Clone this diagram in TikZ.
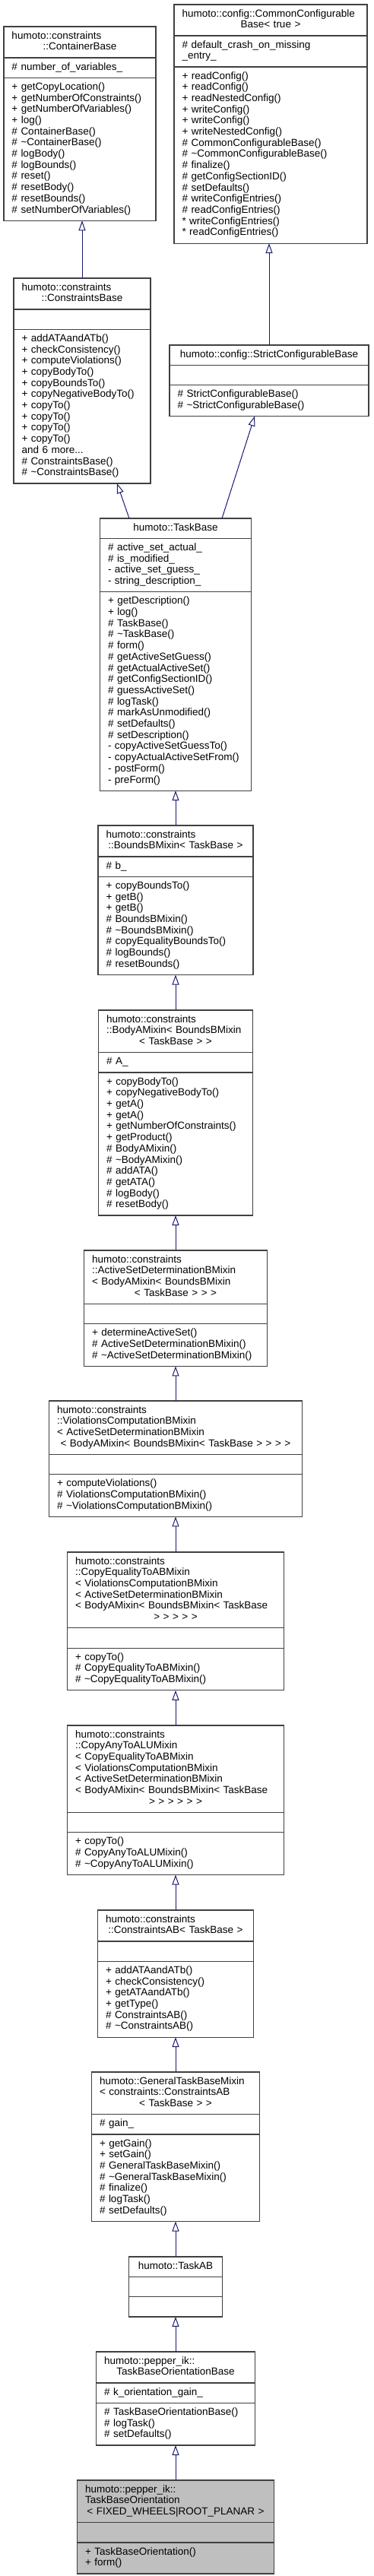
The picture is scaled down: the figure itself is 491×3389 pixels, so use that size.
\documentclass[tikz,border=0pt]{standalone}
\usepackage{fontspec}
\setmainfont{Liberation Sans}
\usetikzlibrary{shapes.multipart,arrows.meta}

\definecolor{edgeblue}{HTML}{191970}
\definecolor{boxgray}{HTML}{404040}

% three compartments: name, attributes, operations
\newcommand{\umlparts}[3]{\strut#1\strut\nodepart{two}\strut#2\strut\nodepart{three}\strut#3\strut}
\newcommand{\midline}[1]{\makebox[\linewidth]{#1}}
\newcommand{\ti}{\textasciitilde}

\tikzset{
  umlclass/.style={rectangle split, rectangle split parts=3, draw=boxgray, line width=1.2pt,
    fill=white, anchor=north, align=left, inner xsep=10.5pt, inner ysep=5.2pt, outer sep=0pt,
    font=\fontsize{13.5}{14.7}\selectfont},
  inherit/.style={draw=edgeblue, line width=1pt, -{Triangle[open,length=13pt,width=9pt]}},
}

\begin{document}
\begin{tikzpicture}[x=1pt, y=-1pt]
        \useasboundingbox (0,0) rectangle (491,3389);

        % Nodes
        \node[umlclass, text width=179pt] (ContainerBase) at (105,35) {\umlparts
          {humoto::constraints\\\midline{::ContainerBase}}
          {\# number\_of\_variables\_}
          {+ getCopyLocation()\\+ getNumberOfConstraints()\\+ getNumberOfVariables()\\+ log()\\\# ContainerBase()\\\# \ti ContainerBase()\\\# logBody()\\\# logBounds()\\\# reset()\\\# resetBody()\\\# resetBounds()\\\# setNumberOfVariables()}};
        \node[umlclass, text width=233pt] (CommonConfig) at (356,6) {\umlparts
          {humoto::config::CommonConfigurable\\\midline{Base< true >}}
          {\# default\_crash\_on\_missing\\\_entry\_}
          {+ readConfig()\\+ readConfig()\\+ readNestedConfig()\\+ writeConfig()\\+ writeConfig()\\+ writeNestedConfig()\\\# CommonConfigurableBase()\\\# \ti CommonConfigurableBase()\\\# finalize()\\\# getConfigSectionID()\\\# setDefaults()\\\# writeConfigEntries()\\\# readConfigEntries()\\{}* writeConfigEntries()\\{}* readConfigEntries()}};
        \node[umlclass, text width=159pt] (ConstraintsBase) at (108,366) {\umlparts
          {humoto::constraints\\\midline{::ConstraintsBase}}
          {}
          {+ addATAandATb()\\+ checkConsistency()\\+ computeViolations()\\+ copyBodyTo()\\+ copyBoundsTo()\\+ copyNegativeBodyTo()\\+ copyTo()\\+ copyTo()\\+ copyTo()\\+ copyTo()\\and 6 more...\\\# ConstraintsBase()\\\# \ti ConstraintsBase()}};
        \node[umlclass, text width=241pt] (StrictConfig) at (354,454) {\umlparts
          {\midline{humoto::config::StrictConfigurableBase}}
          {}
          {\# StrictConfigurableBase()\\\# \ti StrictConfigurableBase()}};
        \node[umlclass, text width=178pt] (TaskBase) at (231,682) {\umlparts
          {\midline{humoto::TaskBase}}
          {\# active\_set\_actual\_\\\# is\_modified\_\\- active\_set\_guess\_\\- string\_description\_}
          {+ getDescription()\\+ log()\\\# TaskBase()\\\# \ti TaskBase()\\\# form()\\\# getActiveSetGuess()\\\# getActualActiveSet()\\\# getConfigSectionID()\\\# guessActiveSet()\\\# logTask()\\\# markAsUnmodified()\\\# setDefaults()\\\# setDescription()\\- copyActiveSetGuessTo()\\- copyActualActiveSetFrom()\\- postForm()\\- preForm()}};
        \node[umlclass, text width=183pt] (BoundsB) at (231,1086) {\umlparts
          {humoto::constraints\\\midline{::BoundsBMixin< TaskBase >}}
          {\# b\_}
          {+ copyBoundsTo()\\+ getB()\\+ getB()\\\# BoundsBMixin()\\\# \ti BoundsBMixin()\\\# copyEqualityBoundsTo()\\\# logBounds()\\\# resetBounds()}};
        \node[umlclass, text width=182pt] (BodyA) at (231,1329) {\umlparts
          {humoto::constraints\\::BodyAMixin< BoundsBMixin\\\midline{< TaskBase > >}}
          {\# A\_}
          {+ copyBodyTo()\\+ copyNegativeBodyTo()\\+ getA()\\+ getA()\\+ getNumberOfConstraints()\\+ getProduct()\\\# BodyAMixin()\\\# \ti BodyAMixin()\\\# addATA()\\\# getATA()\\\# logBody()\\\# resetBody()}};
        \node[umlclass, text width=220pt] (ActiveSet) at (231,1645) {\umlparts
          {humoto::constraints\\::ActiveSetDeterminationBMixin\\< BodyAMixin< BoundsBMixin\\\midline{< TaskBase > > >}}
          {}
          {+ determineActiveSet()\\\# ActiveSetDeterminationBMixin()\\\# \ti ActiveSetDeterminationBMixin()}};
        \node[umlclass, text width=312pt] (Violations) at (231,1843) {\umlparts
          {humoto::constraints\\::ViolationsComputationBMixin\\< ActiveSetDeterminationBMixin\\\midline{< BodyAMixin< BoundsBMixin< TaskBase > > > >}}
          {}
          {+ computeViolations()\\\# ViolationsComputationBMixin()\\\# \ti ViolationsComputationBMixin()}};
        \node[umlclass, text width=264pt] (CopyEquality) at (231,2042) {\umlparts
          {humoto::constraints\\::CopyEqualityToABMixin\\< ViolationsComputationBMixin\\< ActiveSetDeterminationBMixin\\< BodyAMixin< BoundsBMixin< TaskBase\\\midline{> > > > >}}
          {}
          {+ copyTo()\\\# CopyEqualityToABMixin()\\\# \ti CopyEqualityToABMixin()}};
        \node[umlclass, text width=264pt] (CopyAny) at (231,2270) {\umlparts
          {humoto::constraints\\::CopyAnyToALUMixin\\< CopyEqualityToABMixin\\< ViolationsComputationBMixin\\< ActiveSetDeterminationBMixin\\< BodyAMixin< BoundsBMixin< TaskBase\\\midline{> > > > > >}}
          {}
          {+ copyTo()\\\# CopyAnyToALUMixin()\\\# \ti CopyAnyToALUMixin()}};
        \node[umlclass, text width=184pt] (ConstraintsAB) at (231,2513) {\umlparts
          {humoto::constraints\\\midline{::ConstraintsAB< TaskBase >}}
          {}
          {+ addATAandATb()\\+ checkConsistency()\\+ getATAandATb()\\+ getType()\\\# ConstraintsAB()\\\# \ti ConstraintsAB()}};
        \node[umlclass, text width=200pt] (GeneralTask) at (231,2726) {\umlparts
          {humoto::GeneralTaskBaseMixin\\< constraints::ConstraintsAB\\\midline{< TaskBase > >}}
          {\# gain\_}
          {+ getGain()\\+ setGain()\\\# GeneralTaskBaseMixin()\\\# \ti GeneralTaskBaseMixin()\\\# finalize()\\\# logTask()\\\# setDefaults()}};
        \node[umlclass, text width=102pt] (TaskAB) at (231,2969) {\umlparts
          {\midline{humoto::TaskAB}}
          {}
          {}};
        \node[umlclass, text width=188pt] (OrientationBase) at (231,3094) {\umlparts
          {humoto::pepper\_ik::\\\midline{TaskBaseOrientationBase}}
          {\# k\_orientation\_gain\_}
          {\# TaskBaseOrientationBase()\\\# logTask()\\\# setDefaults()}};
        \node[umlclass, text width=238pt, fill=gray!50] (Orientation) at (231,3263) {\umlparts
          {humoto::pepper\_ik::\\TaskBaseOrientation\\\midline{< FIXED\_WHEELS|ROOT\_PLANAR >}}
          {}
          {+ TaskBaseOrientation()\\+ form()}};

        % Inheritance arrows
        \draw[inherit] (ConstraintsBase.north) -- (ConstraintsBase.north |- ContainerBase.south);
        \draw[inherit] (StrictConfig.north) -- (StrictConfig.north |- CommonConfig.south);
        \draw[inherit] ([xshift=38.5pt]TaskBase.north west) -- ([xshift=136pt]ConstraintsBase.south west);
        \draw[inherit] ([xshift=160.5pt]TaskBase.north west) -- ([xshift=112pt]StrictConfig.south west);
        \foreach \kid/\base in {BoundsB/TaskBase, BodyA/BoundsB, ActiveSet/BodyA, Violations/ActiveSet,
            CopyEquality/Violations, CopyAny/CopyEquality, ConstraintsAB/CopyAny, GeneralTask/ConstraintsAB,
            TaskAB/GeneralTask, OrientationBase/TaskAB, Orientation/OrientationBase}
          \draw[inherit] (\kid.north) -- (\base.south);
\end{tikzpicture}
\end{document}
